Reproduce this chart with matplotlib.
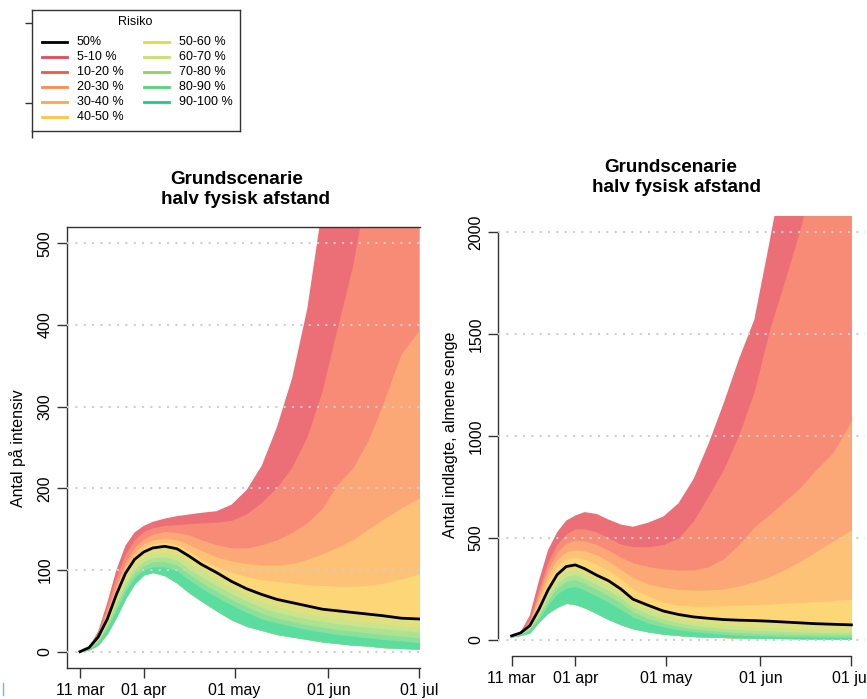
import numpy as np
import matplotlib as mpl
mpl.use('Agg')
import matplotlib.pyplot as plt
from matplotlib.lines import Line2D

plt.rcParams['font.family'] = ['Liberation Sans', 'DejaVu Sans']

#--------------------------------------------------------------------------------------------------------
# data: days since 11 mar, simulated quantiles

days = [0, 3, 6, 9, 12, 15, 18, 21, 24, 28, 32, 36, 40, 45, 50, 55, 60, 65, 70, 75, 80, 85, 90, 95, 100, 106, 112]

# Antal paa intensiv
icu_q95 = [0, 6, 25, 60, 100, 130, 146, 154, 159, 163, 166, 168, 170, 172, 180, 198, 228, 275, 335, 420, 545, 700, 850, 1000, 1150, 1300, 1450]
icu_q90 = [0, 6, 22, 54, 90, 118, 136, 146, 151, 154, 155, 156, 157, 158, 160, 168, 182, 200, 225, 262, 318, 395, 470, 570, 680, 800, 950]
icu_q80 = [0, 5, 21, 51, 83, 110, 128, 138, 144, 147, 146, 143, 137, 131, 127, 127, 131, 137, 146, 158, 176, 205, 225, 258, 304, 365, 394]
icu_q70 = [0, 5, 20, 49, 79, 105, 122, 132, 137, 139, 137, 131, 124, 116, 111, 108, 106, 106, 108, 113, 120, 128, 137, 150, 162, 176, 188]
icu_q60 = [0, 5, 19, 46, 75, 100, 117, 127, 132, 134, 131, 123, 113, 104, 97, 92, 88, 86, 84, 82, 81, 80, 80, 81, 84, 89, 95]
icu_q50 = [0, 5, 18, 40, 70, 96, 113, 122, 127, 129, 126, 117, 107, 97, 86, 77, 70, 64, 60, 56, 52, 50, 48, 46, 44, 41, 40]
icu_q40 = [0, 4, 16, 36, 64, 89, 106, 115, 120, 121, 118, 108, 99, 88, 78, 69, 61, 55, 50, 46, 43, 41, 38, 36, 34, 32, 30]
icu_q30 = [0, 4, 15, 34, 60, 84, 101, 110, 115, 116, 112, 101, 92, 81, 71, 62, 54, 48, 44, 40, 37, 34, 32, 30, 28, 26, 24]
icu_q20 = [0, 3, 14, 32, 56, 79, 96, 105, 110, 110, 106, 95, 85, 74, 64, 55, 47, 41, 37, 33, 30, 27, 25, 23, 21, 19, 17]
icu_q10 = [0, 3, 12, 29, 51, 74, 91, 100, 104, 104, 99, 88, 78, 67, 57, 48, 40, 35, 31, 27, 24, 21, 19, 17, 15, 13, 11]
icu_q05 = [0, 2, 8, 22, 42, 65, 83, 94, 97, 93, 84, 72, 62, 50, 39, 31, 26, 21, 18, 15, 12, 10, 8, 7, 5, 4, 3]

# Antal indlagte, almene senge
bed_q95 = [20, 40, 120, 290, 440, 528, 585, 610, 627, 618, 590, 566, 555, 575, 605, 670, 790, 965, 1165, 1380, 1570, 1950, 2350, 2750, 3150, 3600, 4100]
bed_q90 = [20, 38, 105, 250, 385, 470, 520, 545, 545, 530, 500, 470, 458, 457, 468, 500, 585, 710, 840, 1010, 1220, 1520, 1760, 2010, 2300, 2650, 3000]
bed_q80 = [20, 37, 95, 225, 350, 430, 475, 490, 487, 468, 440, 405, 378, 360, 348, 343, 343, 360, 400, 470, 555, 615, 680, 745, 830, 920, 1075]
bed_q70 = [20, 36, 88, 205, 320, 395, 432, 442, 437, 418, 385, 345, 305, 275, 258, 248, 244, 245, 250, 265, 285, 310, 345, 385, 430, 485, 540]
bed_q60 = [20, 36, 80, 180, 290, 365, 398, 405, 395, 370, 340, 300, 250, 215, 185, 170, 165, 165, 167, 170, 173, 176, 180, 184, 188, 194, 200]
bed_q50 = [20, 35, 70, 150, 245, 320, 360, 368, 350, 318, 290, 250, 200, 170, 142, 125, 113, 106, 100, 97, 95, 92, 88, 84, 80, 77, 74]
bed_q40 = [19, 32, 64, 138, 228, 298, 335, 343, 325, 295, 265, 228, 180, 148, 122, 103, 90, 81, 74, 69, 65, 62, 59, 56, 54, 52, 50]
bed_q30 = [18, 30, 60, 128, 212, 278, 312, 320, 302, 272, 242, 206, 160, 127, 102, 84, 72, 63, 56, 51, 47, 44, 41, 39, 37, 36, 35]
bed_q20 = [17, 28, 55, 116, 195, 255, 287, 295, 278, 248, 218, 182, 138, 106, 83, 66, 55, 47, 41, 36, 33, 30, 28, 26, 25, 24, 23]
bed_q10 = [16, 26, 50, 103, 172, 225, 255, 262, 245, 215, 185, 150, 112, 84, 64, 50, 41, 34, 28, 24, 21, 19, 17, 16, 15, 14, 13]
bed_q05 = [15, 22, 35, 88, 132, 160, 180, 174, 158, 130, 100, 75, 55, 40, 29, 22, 17, 14, 12, 10, 9, 8, 7, 6, 5, 4, 3]

risk_labels = ["5-10 %", "10-20 %", "20-30 %", "30-40 %", "40-50 %",
               "50-60 %", "60-70 %", "70-80 %", "80-90 %", "90-100 %"]
date_ticks  = [0, 21, 51, 82, 112]
date_labels = ["11 mar", "01 apr", "01 may", "01 jun", "01 jul"]

#--------------------------------------------------------------------------------------------------------

band_cols = ["#EC6E76", "#F78B76", "#FBA876", "#FDC275", "#FDD777",
             "#E0E07F", "#C9E48A", "#ABE393", "#88E09B", "#5CDDA0"]
line_cols = ["#E54A57", "#F25A3F", "#FF8A4C", "#FFA64D", "#FFC43D",
             "#E6D83F", "#C7E06B", "#8BD65A", "#52D67D", "#1DC98A"]
AXCOL = "#333333"
W, H = 867, 699

def fx(x): return x/W
def fy(y): return 1 - y/H

def draw_fan(ax, tops, bottom, median, yticks):
    # each band is filled from the lowest quantile up to its own top, painted top-down
    for top, col in zip(tops, band_cols):
        ax.fill_between(days, bottom, top, color=col, lw=0, zorder=1)
    for v in yticks:
        ax.axhline(v, color="#CFCFCF", ls=(0, (1, 3)), lw=1.5, zorder=3)
    ax.plot(days, median, color="black", lw=2, zorder=4)
    ax.set_xticks(date_ticks)
    ax.set_xticklabels(date_labels)
    ax.set_yticks(yticks)
    ax.set_yticklabels([str(v) for v in yticks])
    ax.tick_params(direction="out", length=7, width=1, color=AXCOL, labelsize=11.5)
    ax.tick_params(axis="x", pad=3.5)
    ax.tick_params(axis="y", pad=3.5, labelrotation=90)
    for lab in ax.get_yticklabels(): lab.set_va("center")
    for s in ax.spines.values(): s.set_color(AXCOL); s.set_linewidth(1)

fig = plt.figure(figsize=(W/100, H/100), dpi=100)

# left panel: intensiv
ax1 = fig.add_axes([fx(67), fy(668), 353/W, 441/H])
draw_fan(ax1, [icu_q95, icu_q90, icu_q80, icu_q70, icu_q60, icu_q50, icu_q40, icu_q30, icu_q20, icu_q10],
         icu_q05, icu_q50, [0, 100, 200, 300, 400, 500])
ax1.set_xlim(-4.3, 112.2)
ax1.set_ylim(-20, 520)
ax1.spines["right"].set_visible(False)

# right panel: almene senge
ax2 = fig.add_axes([fx(498), fy(656.3), 367/W, 440.6/H])
draw_fan(ax2, [bed_q95, bed_q90, bed_q80, bed_q70, bed_q60, bed_q50, bed_q40, bed_q30, bed_q20, bed_q10],
         bed_q05, bed_q50, [0, 500, 1000, 1500, 2000])
ax2.set_xlim(-4.48, 116.48)
ax2.set_ylim(-80, 2080)
ax2.spines["top"].set_visible(False)
ax2.spines["right"].set_visible(False)
ax2.spines["left"].set_bounds(0, 2000)
ax2.spines["bottom"].set_bounds(0, 112)

# titles and axis labels
fig.text(fx(237), fy(179), "Grundscenarie", ha="center", va="center", fontsize=13.6, fontweight="bold")
fig.text(fx(245), fy(199), "halv fysisk afstand", ha="center", va="center", fontsize=13.6, fontweight="bold")
fig.text(fx(671), fy(167), "Grundscenarie", ha="center", va="center", fontsize=13.6, fontweight="bold")
fig.text(fx(676), fy(188), "halv fysisk afstand", ha="center", va="center", fontsize=13.6, fontweight="bold")
fig.text(fx(18), fy(448), "Antal på intensiv", rotation=90, ha="center", va="center", fontsize=11.5)
fig.text(fx(451), fy(435), "Antal indlagte, almene senge", rotation=90, ha="center", va="center", fontsize=11.5)

#--------------------------------------------------------------------------------------------------------
# legend box, drawn in pixel units

lax = fig.add_axes([fx(32), fy(131), 208/W, 121/H])
lax.set_xlim(0, 208)
lax.set_ylim(121, 0)
lax.set_xticks([0])
lax.set_xticklabels([""])
lax.set_yticks([12.7, 93.3])
lax.set_yticklabels(["", ""])
lax.tick_params(direction="out", length=5, width=1, color=AXCOL)
for s in lax.spines.values(): s.set_color(AXCOL); s.set_linewidth(1)

lax.text(103, 11.7, "Risiko", ha="center", va="center", fontsize=9)
entries = [("50%", "black")] + list(zip(risk_labels, line_cols))
for i, (lab, col) in enumerate(entries):
    col_x = 10 if i < 6 else 112
    row_y = 31.7 + 15*(i if i < 6 else i - 6)
    lax.plot([col_x, col_x + 25], [row_y, row_y], color=col, lw=2)
    lax.text(col_x + 35, row_y, lab, ha="left", va="center", fontsize=9)

fig.add_artist(Line2D([fx(3), fx(3)], [fy(683), fy(695)], color="#7FB2DE", lw=1))

plt.savefig("out.png", dpi=100)
